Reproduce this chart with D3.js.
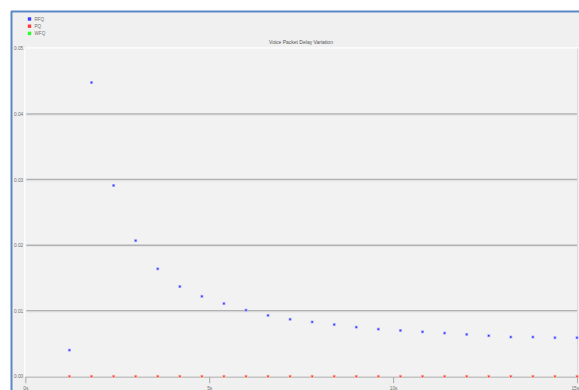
<!DOCTYPE html>
<html>
<head>
<meta charset="utf-8">
<script src="https://cdn.jsdelivr.net/npm/d3@7"></script>
<style>
  html, body { margin: 0; padding: 0; background: #ffffff; }
  svg { display: block; }
  text { font-family: Arial, "Liberation Sans", sans-serif; }
</style>
</head>
<body>
<svg id="chart" width="579" height="390"></svg>
<script>
// Sample times (seconds)
const times = [1.2, 1.8, 2.4, 3.0, 3.6, 4.2, 4.8, 5.4, 6.0, 6.6, 7.2, 7.8,
               8.4, 9.0, 9.6, 10.2, 10.8, 11.4, 12.0, 12.6, 13.2, 13.8, 14.4, 15.0];
// Voice packet delay variation per queueing discipline (seconds)
const rfqValues = [0.0040, 0.0448, 0.0291, 0.0207, 0.0164, 0.0137, 0.0122, 0.0111,
                   0.0101, 0.0093, 0.0087, 0.0083, 0.0079, 0.0075, 0.0072, 0.0070,
                   0.0068, 0.0066, 0.0064, 0.0062, 0.0060, 0.0060, 0.0059, 0.0059];
const pqValues  = [0, 0, 0, 0, 0, 0, 0, 0, 0, 0, 0, 0,
                   0, 0, 0, 0, 0, 0, 0, 0, 0, 0, 0, 0];
const wfqValues = [0, 0, 0, 0, 0, 0, 0, 0, 0, 0, 0, 0,
                   0, 0, 0, 0, 0, 0, 0, 0, 0, 0, 0, 0];
const seriesNames = ["RFQ", "PQ", "WFQ"];
const seriesColors = ["#3a3aff", "#ff3a3a", "#2aff2a"];
const seriesHalo = ["#b4b4ff", "#ffb4b4", "#b4ffb4"];
const yTicks = [0, 0.01, 0.02, 0.03, 0.04, 0.05];
const xTicks = [0, 5, 10, 15];
const chartTitle = "Voice Packet Delay Variation";

const svg = d3.select("#chart");
const W = 579, H = 390;
const plot = { left: 25.3, right: 577, top: 48.4, bottom: 376.4 };

const x = d3.scaleLinear().domain([0, 15]).range([plot.left, plot.right]);
const y = d3.scaleLinear().domain([0, 0.05]).range([plot.bottom, plot.top]);

// Window frame
svg.append("rect").attr("width", W).attr("height", H).attr("fill", "#ffffff");
svg.append("rect").attr("x", 11).attr("y", 11).attr("width", W - 11).attr("height", H - 11)
  .attr("fill", "#f0f0f0");
svg.append("line").attr("x1", 11).attr("x2", W).attr("y1", 11.5).attr("y2", 11.5)
  .attr("stroke", "#5b87c6").attr("stroke-width", 2);
svg.append("line").attr("x1", 11.5).attr("x2", 11.5).attr("y1", 11).attr("y2", H)
  .attr("stroke", "#5b87c6").attr("stroke-width", 2);

// Plot panel
svg.append("rect").attr("x", plot.left).attr("y", plot.top)
  .attr("width", plot.right - plot.left).attr("height", plot.bottom - plot.top)
  .attr("fill", "#f2f2f2");
svg.append("line").attr("x1", plot.left).attr("x2", W).attr("y1", plot.top - 0.5).attr("y2", plot.top - 0.5)
  .attr("stroke", "#ffffff").attr("stroke-width", 1.2);
svg.append("line").attr("x1", plot.left - 0.5).attr("x2", plot.left - 0.5).attr("y1", plot.top).attr("y2", plot.bottom)
  .attr("stroke", "#ffffff").attr("stroke-width", 1.2);
svg.append("line").attr("x1", plot.right + 0.5).attr("x2", plot.right + 0.5).attr("y1", plot.top).attr("y2", plot.bottom)
  .attr("stroke", "#dcdcdc").attr("stroke-width", 1);

// Title
svg.append("text").attr("x", 301).attr("y", 43.5).attr("text-anchor", "middle")
  .attr("font-size", 5).attr("fill", "#555").text(chartTitle);

// Horizontal gridlines
const grid = svg.append("g");
yTicks.filter(v => v > 0 && v < 0.05).forEach(v => {
  grid.append("line").attr("x1", plot.left + 1).attr("x2", plot.right)
    .attr("y1", y(v)).attr("y2", y(v)).attr("stroke", "#b2b2b2").attr("stroke-width", 1.5);
  grid.append("line").attr("x1", plot.left + 1).attr("x2", plot.right)
    .attr("y1", y(v) + 1.3).attr("y2", y(v) + 1.3).attr("stroke", "#e2e2e2").attr("stroke-width", 0.8);
});

// Y axis (labels only)
const yAxis = d3.axisLeft(y).tickValues(yTicks).tickSize(0).tickPadding(1.5)
  .tickFormat(d3.format(".2f"));
const yg = svg.append("g").attr("transform", `translate(${plot.left - 0.5},0)`).call(yAxis);
yg.select(".domain").remove();
yg.selectAll("text").attr("font-size", 4.8).attr("fill", "#707070")
  .attr("font-family", "Arial, 'Liberation Sans', sans-serif");

// X axis
const xAxis = d3.axisBottom(x).tickValues(xTicks).tickSize(6).tickPadding(3)
  .tickFormat(d => d + "s");
const xg = svg.append("g").attr("transform", `translate(0,${plot.bottom + 0.8})`).call(xAxis);
xg.select(".domain").attr("stroke", "#c4c4c4").attr("stroke-width", 1.6)
  .attr("d", `M${plot.left},0H${W}`);
xg.selectAll(".tick line").attr("stroke", "#a8a8a8").attr("stroke-width", 1);
xg.selectAll("text").attr("font-size", 4.8).attr("fill", "#707070")
  .attr("font-family", "Arial, 'Liberation Sans', sans-serif")
  .attr("text-anchor", (d, i, n) => i === n.length - 1 ? "end" : "middle")
  .attr("dx", (d, i, n) => i === n.length - 1 ? "1.6" : "0");

// Point markers
function drawSeries(values, color, halo) {
  const g = svg.append("g");
  times.forEach((t, i) => {
    g.append("rect").attr("x", x(t) - 1.5).attr("y", y(values[i]) - 1.5)
      .attr("width", 3).attr("height", 3).attr("fill", halo);
    g.append("rect").attr("x", x(t) - 0.8).attr("y", y(values[i]) - 0.8)
      .attr("width", 1.6).attr("height", 1.6).attr("fill", color);
  });
}
drawSeries(wfqValues, seriesColors[2], seriesHalo[2]);
drawSeries(rfqValues, seriesColors[0], seriesHalo[0]);
drawSeries(pqValues, seriesColors[1], seriesHalo[1]);

// Legend
const legend = svg.append("g");
seriesNames.forEach((name, i) => {
  const ly = 17.3 + i * 7.2;
  legend.append("rect").attr("x", 27.8).attr("y", ly).attr("width", 3.4).attr("height", 3.4)
    .attr("fill", seriesColors[i]);
  legend.append("text").attr("x", 34.5).attr("y", ly + 3.2).attr("font-size", 4.6)
    .attr("fill", "#707070").text(name);
});
</script>
</body>
</html>
